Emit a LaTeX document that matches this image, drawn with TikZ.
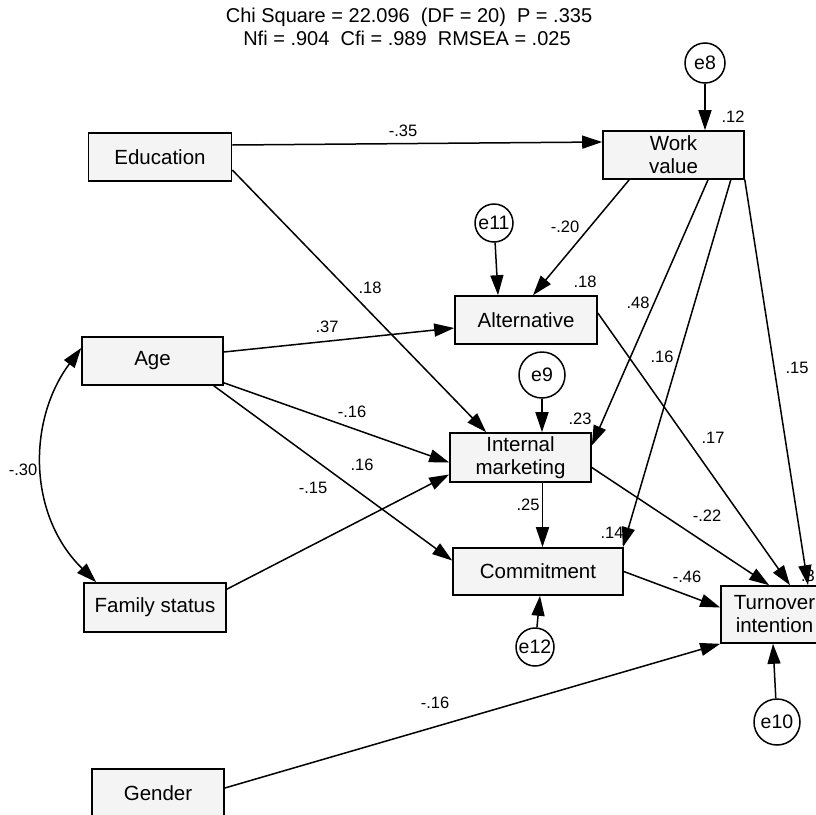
\documentclass[tikz,border=0pt]{standalone}
\usepackage{fontspec}
\setmainfont{Liberation Sans}
\usetikzlibrary{arrows.meta,calc}
\begin{document}
\begin{tikzpicture}[x=1pt,y=-1pt,
  var/.style={draw=black,line width=1.6pt,fill=gray!9,font=\fontsize{20.5}{23}\selectfont,align=center,inner sep=0pt},
  err/.style={circle,draw=black,line width=1.5pt,fill=white,inner sep=0pt,font=\fontsize{19.5}{20}\selectfont},
  arr/.style={line width=1.5pt,-{Triangle[length=20pt,width=13pt]}},
  biarr/.style={line width=1.5pt,{Triangle[length=20pt,width=13pt]}-{Triangle[length=20pt,width=13pt]}},
  coef/.style={font=\fontsize{16.5}{17}\selectfont,inner sep=0pt},
  hdr/.style={font=\fontsize{20}{21}\selectfont,inner sep=0pt}
]
\useasboundingbox (0,0) rectangle (816,814);
\clip (0,0) rectangle (816,814);

% header
\node[hdr] (h1) at (409,17) {Chi Square = 22.096\ \ (DF = 20)\ \ P = .335};
\node[hdr] (h2) at (407,38) {Nfi = .904\ \ Cfi = .989\ \ RMSEA = .025};

% observed variables
\node[var,minimum width=143pt,minimum height=48pt] (Education) at (160,157) {Education};
\node[var,minimum width=141pt,minimum height=48pt] (Work) at (673.5,155) {Work\\value};
\node[var,minimum width=142pt,minimum height=48pt] (Alt) at (526,320) {Alternative};
\node[var,minimum width=141pt,minimum height=49pt] (IM) at (520.5,457.5) {Internal\\marketing};
\node[var,minimum width=141pt,minimum height=48pt] (Age) at (152.5,361) {Age};
\node[var,minimum width=142pt,minimum height=49pt] (Family) at (155,607.5) {Family status};
\node[var,minimum width=170pt,minimum height=47pt] (Commitment) at (538,571.5) {Commitment};
\node[var,minimum width=107pt,minimum height=57pt] (Turnover) at (774.5,614.5) {Turnover\\intention};
\node[var,minimum width=132pt,minimum height=48pt] (Gender) at (158,793) {Gender};

% error terms
\node[err,minimum size=40pt] (e8) at (705,63) {e8};
\node[err,minimum size=38pt] (e11) at (494,223) {e11};
\node[err,minimum size=46pt] (e9) at (542,375) {e9};
\node[err,minimum size=38pt] (e12) at (535,647) {e12};
\node[err,minimum size=46pt] (e10) at (777,722) {e10};

% paths
\draw[arr] ($(Education.east)+(0,-12)$) -- ($(Work.west)+(0,-13)$);
\draw[arr] ($(Education.east)+(0,13)$) -- ($(IM.north west)+(37,0)$);
\draw[arr] ($(Age.east)+(0,-9)$) -- ($(Alt.west)+(0,8)$);
\draw[arr] ($(Age.south east)+(0,-3)$) -- ($(IM.west)+(0,5)$);
\draw[arr] ($(Age.south east)+(-10,0)$) -- ($(Commitment.west)+(0,-11)$);
\draw[arr] ($(Family.north east)+(0,7)$) -- ($(IM.west)+(0,17)$);
\draw[arr] ($(Work.south west)+(27,0)$) -- ($(Alt.north)+(7,0)$);
\draw[arr] ($(Work.south)+(34.5,0)$) -- ($(IM.east)+(0,-12)$);
\draw[arr] ($(Work.south east)+(-14,0)$) -- ($(Commitment.north east)+(-1,0)$);
\draw[arr] (Work.south east) -- ($(Turnover.north)+(33.5,0)$);
\draw[arr] ($(Alt.east)+(0,-7)$) -- ($(Turnover.north)+(15.5,0)$);
\draw[arr] ($(IM.east)+(0,10)$) -- ($(Turnover.north west)+(49,0)$);
\draw[arr] ($(IM.south)+(22,0)$) -- ($(Commitment.north)+(4.5,0)$);
\draw[arr] (Commitment.east) -- ($(Turnover.west)+(0,-7)$);
\draw[arr] ($(Gender.east)+(0,-5)$) -- (Turnover.south west);
\draw[biarr] ($(Age.west)+(0,-13)$) .. controls (27.5,420) and (27.5,515) .. ($(Family.north west)+(13,0)$);

% error arrows
\draw[arr] (e8) -- (e8 |- Work.north);
\draw[arr] (e11) -- ($(Alt.north)+(-28,0)$);
\draw[arr] (e9) -- (e9 |- IM.north);
\draw[arr] (e12) -- ($(Commitment.south)+(2,0)$);
\draw[arr] (e10) -- ($(Turnover.south)+(-1.5,0)$);

% coefficients
\node[coef] (c1) at (403,131) {-.35};
\node[coef] (c2) at (370,288) {.18};
\node[coef] (c3) at (565,227) {-.20};
\node[coef] (c4) at (585,282) {.18};
\node[coef] (c5) at (733,117) {.12};
\node[coef] (c6) at (638,303) {.48};
\node[coef] (c7) at (662,357) {.16};
\node[coef] (c8) at (797,368) {.15};
\node[coef] (c9) at (327,327) {.37};
\node[coef] (c10) at (352,412) {-.16};
\node[coef] (c11) at (580,419) {.23};
\node[coef] (c12) at (362,465) {.16};
\node[coef] (c13) at (313,488) {-.15};
\node[coef] (c14) at (528,505) {.25};
\node[coef] (c15) at (713,438) {.17};
\node[coef] (c16) at (707,516) {-.22};
\node[coef] (c17) at (612,533) {.14};
\node[coef] (c18) at (687,577) {-.46};
\node[coef] (c19) at (23,470) {-.30};
\node[coef] (c20) at (435,703) {-.16};
\node[coef,anchor=east] (c21) at (815,576) {.3};
\end{tikzpicture}
\end{document}
